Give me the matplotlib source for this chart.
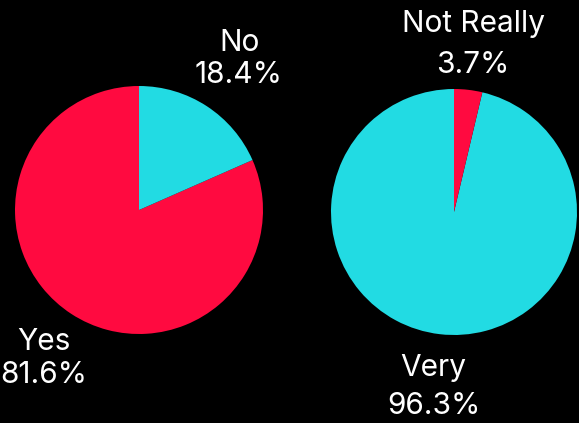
import matplotlib
matplotlib.use("Agg")
import matplotlib.pyplot as plt

# Data
left_labels = ["Yes", "No"]
left_values = [81.6, 18.4]
right_labels = ["Very", "Not Really"]
right_values = [96.3, 3.7]

RED = "#FF0A40"
CYAN = "#22DBE3"

plt.rcParams['font.family'] = ['Inter', 'DejaVu Sans']

W, H = 579, 423
fig = plt.figure(figsize=(W / 100, H / 100), dpi=100, facecolor="black")

def make_ax(cx, cy, r):
    ax = fig.add_axes([(cx - r) / W, (H - cy - r) / H, 2 * r / W, 2 * r / H])
    ax.set_facecolor("black")
    return ax

def finish(ax):
    ax.set_xlim(-1, 1)
    ax.set_ylim(-1, 1)
    ax.set_aspect("equal")
    ax.axis("off")

FS = 21.5

def label(x, y, s):
    # x, y in pixel coords from top-left, baseline anchored
    fig.text(x / W, (H - y) / H, s, color="white", fontsize=FS, ha="center",
             va="baseline", fontweight="normal")

ax1 = make_ax(139, 210, 124)
ax1.pie(left_values, colors=[RED, CYAN], startangle=90, radius=1, center=(0, 0), frame=False)
finish(ax1)
# (name pos, pct pos)
left_pos = [((43.5, 350), (43.5, 383)), ((240, 51), (238.5, 83))]
for lab, v, (p1, p2) in zip(left_labels, left_values, left_pos):
    label(*p1, lab)
    label(*p2, f"{v:.1f}%")

ax2 = make_ax(454, 212, 123)
ax2.pie(right_values, colors=[CYAN, RED], startangle=90, radius=1, center=(0, 0), frame=False)
finish(ax2)
right_pos = [((433.5, 376), (433.5, 414)), ((474, 32), (472.5, 73))]
for lab, v, (p1, p2) in zip(right_labels, right_values, right_pos):
    label(*p1, lab)
    label(*p2, f"{v:.1f}%")

fig.savefig("out.png", dpi=100, facecolor="black")
